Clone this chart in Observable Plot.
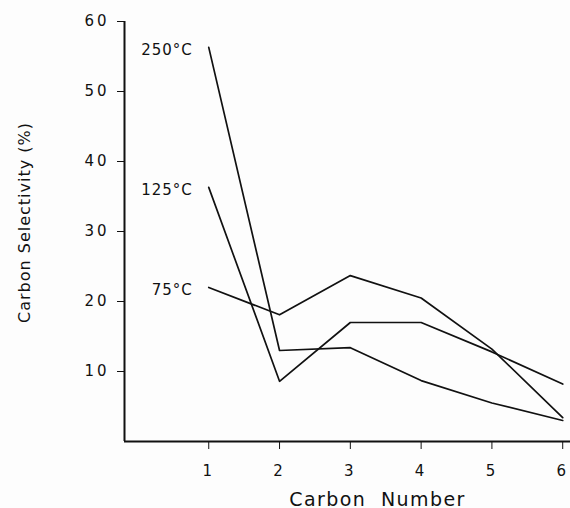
<!DOCTYPE html>
<html>
<head>
<meta charset="utf-8">
<script src="https://cdn.jsdelivr.net/npm/d3@7"></script>
<script src="https://cdn.jsdelivr.net/npm/@observablehq/plot@0.6"></script>
<style>
  html, body { margin: 0; padding: 0; background: #fdfdfd; }
  #chart svg { font-family: "DejaVu Sans", sans-serif; }
</style>
</head>
<body>
<div id="chart"></div>
<script>
const carbonNumbers = [1, 2, 3, 4, 5, 6];
const seriesNames = ["75°C", "125°C", "250°C"];
const sel75 = [22.0, 18.1, 23.7, 20.5, 13.2, 3.4];
const sel125 = [36.3, 8.6, 17.0, 17.0, 12.8, 8.2];
const sel250 = [56.3, 13.0, 13.4, 8.7, 5.5, 3.0];
const yTicks = [10, 20, 30, 40, 50, 60];
const xLabel = "Carbon  Number";
const yLabel = "Carbon Selectivity (%)";

const values = [sel75, sel125, sel250];
const rows = seriesNames.flatMap((s, i) =>
  carbonNumbers.map((c, j) => ({ series: s, c, v: values[i][j] }))
);
const xDomain = [-0.19, 6.11];
const yDomain = [0, 60];

const plot = Plot.plot({
  width: 570,
  height: 508,
  marginLeft: 124,
  marginRight: 0,
  marginTop: 21,
  marginBottom: 67,
  style: { background: "#fdfdfd", color: "#111", fontFamily: "DejaVu Sans, sans-serif" },
  x: { domain: xDomain },
  y: { domain: yDomain },
  marks: [
    Plot.ruleX([xDomain[0]], { y1: yDomain[0], y2: yDomain[1], stroke: "#111", strokeWidth: 2 }),
    Plot.ruleY([yDomain[0]], { x1: xDomain[0], x2: xDomain[1], stroke: "#111", strokeWidth: 2 }),
    Plot.axisY({ ticks: yTicks, tickSize: 7, tickPadding: 8, fontSize: 15, label: null, tickFormat: d => String(d), stroke: "#111" }),
    Plot.axisX({ ticks: carbonNumbers, tickSize: 8, tickPadding: 16, fontSize: 15, label: null, tickFormat: d => String(d), stroke: "#111" }),
    Plot.line(rows, { x: "c", y: "v", z: "series", stroke: "#111", strokeWidth: 1.7 }),
    Plot.text(rows.filter(d => d.c === carbonNumbers[0]), {
      x: "c", y: "v", text: "series", textAnchor: "end", dx: -16, dy: 3, fontSize: 15, fill: "#111"
    }),
    Plot.text([xLabel], { frameAnchor: "bottom", text: d => d, textAnchor: "middle", dy: 64, dx: 30, fontSize: 19, fill: "#111" }),
    Plot.text([yLabel], { frameAnchor: "left", text: d => d, textAnchor: "middle", rotate: -90, dx: -100, dy: -9, fontSize: 16, fill: "#111" })
  ]
});
document.getElementById("chart").appendChild(plot);
const sel = d3.select(plot);
sel.selectAll("g[aria-label='y-axis tick label'] text, g[aria-label='x-axis tick label'] text").style("letter-spacing", "3px");
const textGroups = sel.selectAll("g[aria-label='text']").nodes();
const spacings = ["1px", "1.4px", "1px"];
textGroups.forEach((g, i) => d3.select(g).selectAll("text").style("letter-spacing", spacings[i] || "0px"));
</script>
</body>
</html>
